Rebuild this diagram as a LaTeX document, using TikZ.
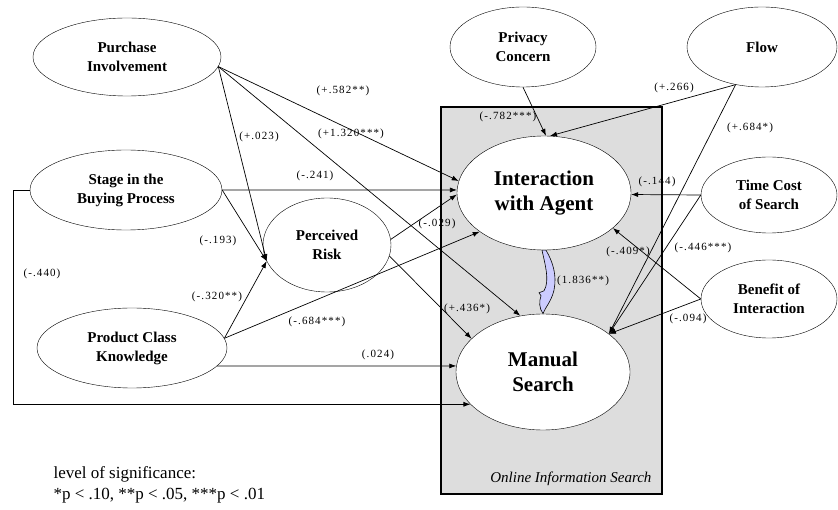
\documentclass[tikz,border=0pt]{standalone}
\usepackage{fontspec}
\setmainfont{Liberation Serif}
\newfontfamily\lblfont[LetterSpace=10]{Liberation Serif}
\usetikzlibrary{shapes.geometric,arrows.meta}
\definecolor{boxgray}{RGB}{221,221,221}
\definecolor{curlyblue}{RGB}{204,204,255}

\begin{document}
\begin{tikzpicture}
  [x=1pt,y=-1pt,
   var/.style={ellipse,draw,fill=white,inner sep=0pt,align=center,
     font=\fontsize{15}{19}\selectfont\bfseries},
   main/.style={var,font=\fontsize{21}{25}\selectfont\bfseries},
   lbl/.style={font=\lblfont\fontsize{11}{13}\selectfont,inner sep=0pt},
   link/.style={draw,line width=0.7pt,-{Latex[length=7pt,width=5pt]}}]
  \useasboundingbox (0,0) rectangle (838,510);
  % the search box
  \filldraw[fill=boxgray,line width=1.2pt] (441,107) rectangle (662,494);
  \node[anchor=east,font=\fontsize{15}{18}\selectfont\itshape] (ois) at (655,479) {Online Information Search};
  % constructs
  \node[var,minimum width=188pt,minimum height=78pt] (pi) at (127,57) {Purchase\\Involvement};
  \node[var,minimum width=192pt,minimum height=80pt] (sb) at (126,190) {Stage in the\\Buying Process};
  \node[var,minimum width=128pt,minimum height=94pt] (pr) at (327,245) {Perceived\\Risk};
  \node[var,minimum width=190pt,minimum height=80pt] (pk) at (132,348) {Product Class\\Knowledge};
  \node[var,minimum width=146pt,minimum height=80pt] (pc) at (523,47) {Privacy\\Concern};
  \node[var,minimum width=150pt,minimum height=80pt] (fl) at (762,47) {Flow};
  \node[var,minimum width=136pt,minimum height=76pt] (tc) at (769,195) {Time Cost\\of Search};
  \node[var,minimum width=136pt,minimum height=78pt] (bi) at (769,299) {Benefit of\\Interaction};
  \node[main,minimum width=174pt,minimum height=114pt] (ia) at (544,193) {Interaction\\with Agent};
  \node[main,minimum width=174pt,minimum height=116pt] (ms) at (543,372) {Manual\\Search};
  % paths
  \foreach \from/\to in {pi.-6/ia.172,pi.-6/ms.112,pi.-6/pr.195,sb.east/ia.178,sb.east/pr.195,
      pk.6/pr.195,pk.6/ia.211,pk.-12/ms.176,pr.5/ia.181,pr.-10/ms.155,
      pc.south/ia.88,fl.235/ia.84,fl.235/ms.30,tc.west/ia.-1,tc.west/ms.30,
      bi.west/ia.-27,bi.west/ms.30}
    \draw[link] (\from) -- (\to);
  \draw[link] (sb.west) -- ++(-16,0) |- (ms.204);
  % curly arrow
  \filldraw[fill=curlyblue,line width=0.6pt] ([xshift=2pt]ia.south)
    .. controls +(7,12) and +(3,-15) .. ++(8,40)
    .. controls +(-3,12) and +(3,-8) .. (ms.north)
    .. controls +(-4,-6) and +(-2,6) .. ++(-2,-18)
    -- ++(-2,-3) -- ++(5,-2)
    .. controls +(6,-10) and +(3,14) .. ([xshift=-2pt]ia.south) -- cycle;
  % coefficients
  \foreach \x/\y/\t [count=\i] in {343/91/(+.582**),351/134/(+1.320***),259/137/(+.023),
      315/176/(-.241),218/241/(-.193),42/274/(-.440),217/297/(-.320**),317/322/(-.684***),
      378/355/(.024),437/224/(-.029),467/309/(+.436*),508/117/(-.782***),674/88/(+.266),
      750/128/(+.684*),657/182/(-.144),703/248/(-.446***),628/252/(-.409*),688/319/(-.094),
      583/281/(1.836**)}
    \node[lbl] (l\i) at (\x,\y) {\t};
  \node[anchor=west,align=left,font=\fontsize{17}{21}\selectfont] (lgd) at (50,485)
    {level of significance:\\*p < .10, **p < .05, ***p < .01};
\end{tikzpicture}
\end{document}
